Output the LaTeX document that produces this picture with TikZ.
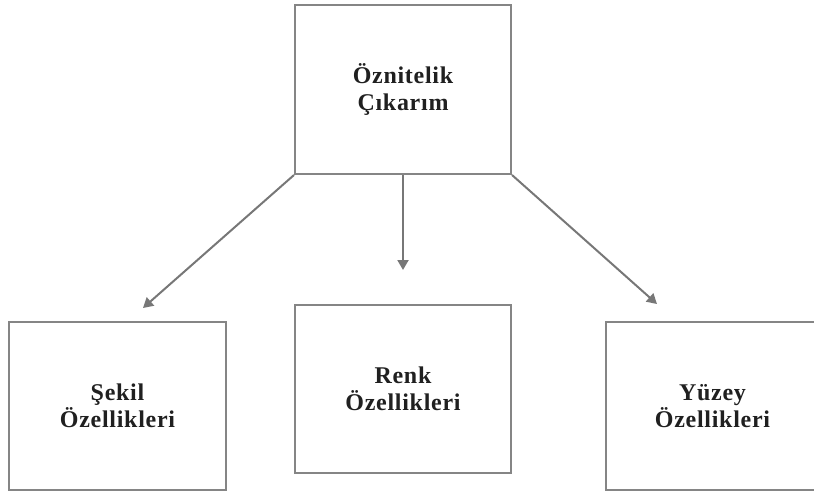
\documentclass[tikz,border=0pt]{standalone}
\usepackage{fontspec}
\setmainfont{Liberation Serif}
\newfontfamily\boxfont[LetterSpace=3]{Liberation Serif}
\usetikzlibrary{arrows.meta}
\definecolor{boxgray}{HTML}{858585}
\definecolor{arrgray}{HTML}{777777}
\definecolor{txt}{HTML}{202020}
\tikzset{
  box/.style={draw=boxgray, line width=2pt, fill=white, minimum width=#1, minimum height=168pt, inner sep=0pt,
    align=center, text=txt, font=\boxfont\fontsize{24}{27}\selectfont\bfseries},
  conn/.style={draw=arrgray, line width=2pt, -{Triangle[length=10pt,width=11pt]}}
}
\begin{document}
\begin{tikzpicture}[x=1pt,y=-1pt]
\useasboundingbox (0,0) rectangle (814,493);
\clip (0,0) rectangle (814,493);
\node[box=216pt, minimum height=169pt] (top) at (403,89.5) {Öznitelik\\Çıkarım};
\node[box=217pt] (sekil) at (117.5,406) {Şekil\\Özellikleri};
\node[box=216pt] (renk) at (403,389) {Renk\\Özellikleri};
\node[box=213pt] (yuzey) at (712.5,406) {Yüzey\\Özellikleri};
\coordinate (e1) at (143,308);
\coordinate (e2) at (403,270);
\coordinate (e3) at (657,304);
\draw[conn] (top.south west) -- (e1);
\draw[conn] (top.south) -- (e2);
\draw[conn] (top.south east) -- (e3);
\end{tikzpicture}
\end{document}
